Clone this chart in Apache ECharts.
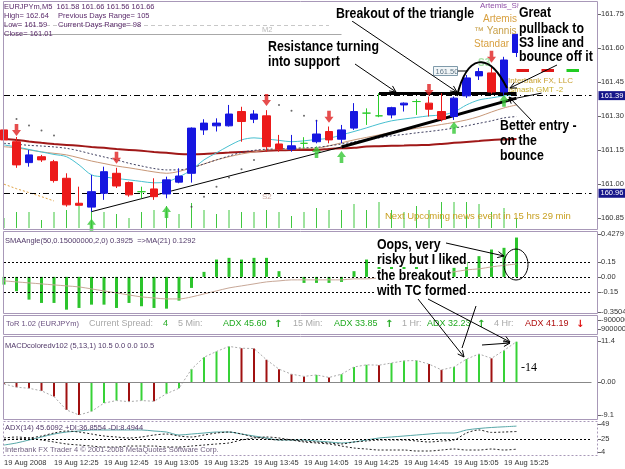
<!DOCTYPE html>
<html>
<head>
<meta charset="utf-8">
<script src="https://cdn.jsdelivr.net/npm/echarts@6/dist/echarts.min.js"></script>
<style>
  html, body { margin: 0; padding: 0; background: #fff; }
  #chart { width: 625px; height: 469px; }
</style>
</head>
<body>
<div id="chart"></div>
<script>
// ---- data (EURJPYm, M5) ----
var times = ['12:05','12:10','12:15','12:20','12:25','12:30','12:35','12:40','12:45','12:50','12:55','13:00',
  '13:05','13:10','13:15','13:20','13:25','13:30','13:35','13:40','13:45','13:50','13:55','14:00',
  '14:05','14:10','14:15','14:20','14:25','14:30','14:35','14:40','14:45','14:50','14:55','15:00',
  '15:05','15:10','15:15','15:20','15:25','15:30','15:35','15:40','15:45','15:50','15:55','16:00'];
var timeLabels = ['19 Aug 2008','19 Aug 12:25','19 Aug 12:45','19 Aug 13:05','19 Aug 13:25','19 Aug 13:45',
  '19 Aug 14:05','19 Aug 14:25','19 Aug 14:45','19 Aug 15:05','19 Aug 15:25'];

// open, close, low, high
var ohlc = [
  [161.239,161.195,161.186,161.252],[161.187,161.085,161.072,161.208],[161.095,161.129,161.077,161.151],
  [161.121,161.107,161.098,161.129],[161.099,161.016,161.007,161.107],[161.026,160.909,160.901,161.048],
  [160.916,160.907,160.906,160.989],[160.899,160.967,160.879,161.041],[160.960,161.055,160.931,161.077],
  [161.048,160.992,160.983,161.072],[161.007,160.953,160.945,161.011],[160.967,160.967,160.938,160.989],
  [160.979,160.945,160.931,161.026],[160.957,161.019,160.938,161.033],[161.009,161.036,161.004,161.070],
  [161.048,161.247,161.007,161.250],[161.239,161.269,161.217,161.286],[161.257,161.269,161.232,161.290],
  [161.257,161.309,161.254,161.349],[161.320,161.276,161.187,161.341],[161.286,161.309,161.269,161.326],
  [161.301,161.165,161.143,161.326],[161.177,161.154,161.143,161.217],[161.154,161.169,161.143,161.217],
  [161.180,161.180,161.158,161.207],[161.187,161.221,161.180,161.283],[161.232,161.195,161.180,161.254],
  [161.198,161.239,161.180,161.261],[161.247,161.320,161.239,161.357],[161.313,161.313,161.261,161.334],
  [161.301,161.301,161.295,161.401],[161.305,161.337,161.290,161.341],[161.349,161.357,161.320,161.360],
  [161.364,161.364,161.305,161.374],[161.357,161.330,161.298,161.386],[161.320,161.286,161.276,161.401],
  [161.298,161.379,161.283,161.386],[161.389,161.468,161.380,161.481],[161.477,161.496,161.459,161.512],
  [161.490,161.406,161.398,161.521],[161.406,161.547,161.389,161.561],[161.580,161.660,161.560,161.660]
];
var volumes = [44,71,71,36,71,80,98,89,71,62,44,71,80,98,62,111,80,62,80,71,71,80,71,53,71,89,80,80,
  107,80,116,80,71,98,80,116,116,116,107,71,89,44];
var slowMA = [161.199,161.195,161.188,161.182,161.177,161.173,161.169,161.164,161.160,161.155,161.151,161.147,
  161.142,161.138,161.133,161.132,161.133,161.136,161.139,161.142,161.144,161.147,161.149,161.150,161.151,
  161.151,161.155,161.158,161.160,161.166,161.167,161.169,161.170,161.172,161.173,161.177,161.182,161.186,
  161.190,161.195,161.197,161.199];
var fastMA = [161.173,161.164,161.153,161.142,161.131,161.121,161.085,161.041,161.032,161.025,161.019,161.012,
  161.006,161.010,161.032,161.063,161.107,161.138,161.169,161.195,161.204,161.199,161.193,161.187,161.191,
  161.197,161.202,161.217,161.232,161.248,161.265,161.279,161.287,161.294,161.301,161.305,161.318,161.349,
  161.371,161.380,161.389,161.393];
var midMA = [161.165,161.160,161.151,161.142,161.136,161.129,161.116,161.102,161.091,161.080,161.072,161.063,
  161.054,161.048,161.056,161.072,161.089,161.107,161.121,161.133,161.142,161.151,161.153,161.155,161.157,
  161.158,161.169,161.182,161.195,161.206,161.217,161.228,161.237,161.246,161.254,161.263,161.272,161.283,
  161.298,161.318,161.336,161.349];
var dashMA = [161.180,161.176,161.171,161.168,161.164,161.158,161.147,161.133,161.120,161.107,161.092,161.080,
  161.069,161.063,161.063,161.072,161.089,161.107,161.124,161.140,161.149,161.154,161.155,161.158,161.160,
  161.162,161.169,161.177,161.186,161.195,161.204,161.213,161.219,161.226,161.232,161.239,161.247,161.257,
  161.268,161.279,161.292,161.298];
var pivotLine = [161.000,160.980,160.963,160.945,160.926];
var sarDots = [null,161.287,161.258,161.236,161.214,null,null,null,null,null,null,null,null,null,null,
  160.901,160.945,160.989,161.029,161.066,161.107,161.148,161.349,161.323,161.301,161.279];
var downArrows = [[1,161.239],[9,161.116],[21,161.371],[26,161.297],[34,161.415],[39,161.561]];
var upArrows = [[7,160.821],[13,160.878],[25,161.142],[27,161.120],[36,161.248],[40,161.367]];

var smaAngle = [-0.077,-0.143,-0.227,-0.26,-0.26,-0.327,-0.31,-0.277,-0.277,-0.31,-0.26,-0.293,-0.31,-0.317,
  -0.237,-0.11,0.05,0.173,0.19,0.173,0.19,0.19,0.057,0,-0.06,-0.06,-0.06,-0.05,0.057,0.173,
  0.12,0.15,0.16,0.12,0.08,0.05,0.09,0.15,0.207,0.273,0.29,0.3925];
var smaMA = [-0.04,-0.05,-0.06,-0.07,-0.08,-0.09,-0.10,-0.12,-0.14,-0.16,-0.18,-0.20,-0.21,-0.22,-0.22,-0.20,
  -0.17,-0.14,-0.11,-0.09,-0.07,-0.05,-0.04,-0.03,-0.03,-0.03,-0.03,-0.03,-0.02,-0.02,-0.01,0.00,0.01,0.02,
  0.03,0.04,0.05,0.07,0.08,0.10,0.115,0.129];
var macd = [-0.5,-1.4,-1.7,-2.4,-4.0,-7.7,-9.1,-8.1,-5.8,-5.1,-5.4,-5.1,-5.3,-3.2,-1.7,3.6,6.9,8.5,9.9,9.4,9.3,
  6.2,3.6,2.2,1.6,2.0,1.3,2.2,4.2,4.8,4.7,5.3,5.9,6.0,5.0,3.4,4.2,6.4,7.8,6.6,8.8,11.2];
var adx = [15.2,18.5,23.3,28.1,32.9,36.1,37.7,39.4,39.4,39.4,39.4,39.4,37.7,36.1,31.3,32.9,34.5,36.1,36.1,32.9,
  29.7,26.5,23.3,23.3,23.3,21.7,20.1,18.5,20.1,23.3,26.5,28.1,29.7,31.3,32.9,34.5,34.5,39.4,41.8,43.4,44.5,45.6];
var plusDI = [23.3,24.9,26.5,29.7,34.5,37.7,36.1,32.9,29.7,28.1,26.5,28.1,31.3,32.9,29.7,28.1,31.3,34.5,36.1,
  32.9,28.1,24.9,23.3,23.3,21.7,20.1,18.5,16.9,20.1,21.7,23.3,23.3,23.3,21.7,20.1,21.7,23.3,34.5,39.4,35.5,36.1,36.9];
var minusDI = [26.5,28.1,26.5,23.3,20.1,16.9,15.2,13.6,12,12,13.6,13.6,13.6,12,12,13.6,15.2,16.9,18.5,23.3,
  26.5,28.1,26.5,23.3,20.1,18.5,16.9,13.6,10.4,8.8,7.2,7.2,7.2,5.6,5.6,7.2,8.8,7.2,7.2,8.8,7.2,8.5];

var priceTicks = [160.85,161.00,161.15,161.30,161.45,161.60,161.75];
var smaTicks = [-0.3504,-0.15,0,0.15,0.4279];
var smaTickLabels = ['-0.3504','-0.15','0.00','0.15','0.4279'];
var torTicks = [-9000000,9000000];
var macdTicks = [-9.1,0,11.4];
var macdTickLabels = ['-9.1','0.00','11.4'];
var adxTicks = [4,25,49];

// ---- styling ----
var FONT = '"Liberation Sans", Arial, sans-serif';
var BULL = '#1616e0', BEAR = '#ec1a1a', DOJI = '#2ccc2c';
var FRAME = '#a898b8';

function lookup(ticks, labels) {
  return function (v) {
    for (var i = 0; i < ticks.length; i++) if (Math.abs(ticks[i] - v) < 1e-9) return labels[i];
    return '';
  };
}

function rightAxis(grid, min, max, ticks, fmt, extra) {
  var ax = {
    type: 'value', gridIndex: grid, position: 'right', offset: 6.5, min: min, max: max,
    axisLine: { show: false },
    axisTick: { show: true, length: 3, customValues: ticks, lineStyle: { color: '#666' } },
    axisLabel: { customValues: ticks, formatter: fmt, fontSize: 7.5, fontFamily: FONT, color: '#333', margin: 3 },
    splitLine: { show: false }
  };
  return Object.assign(ax, extra || {});
}

var candleData = ohlc.map(function (d) {
  if (d[0] === d[1]) {
    return { value: d, itemStyle: { color: DOJI, color0: DOJI, borderColor: DOJI, borderColor0: DOJI, borderColorDoji: DOJI } };
  }
  return d;
});

var macdData = macd.map(function (v, i) {
  var up = i === 0 ? false : v > macd[i - 1];
  return { value: v, itemStyle: { color: up ? '#36d236' : '#a01010' } };
});

function priceLabel(v, bg) {
  return {
    yAxis: v, lineStyle: { opacity: 0 },
    label: { show: true, position: 'end', distance: 7, formatter: v.toFixed(2), color: '#fff',
      backgroundColor: bg, padding: [1, 2, 0, 2], fontSize: 7.5, fontFamily: FONT }
  };
}
function seg(x1, y1, x2, y2, style) {
  return [{ coord: [x1, y1], lineStyle: style }, { coord: [x2, y2] }];
}

var xAxes = [0, 1, 2, 3, 4].map(function (g) {
  return {
    type: 'category', gridIndex: g, data: times, boundaryGap: false,
    offset: g === 4 ? 4 : 0,
    axisLine: { show: false }, axisTick: { show: false }, splitLine: { show: false },
    axisLabel: g === 4 ? {
      show: true, align: 'left', margin: 3, fontSize: 7.5, fontFamily: FONT, color: '#333',
      interval: function (i) { return i % 4 === 0 && i <= 40; },
      formatter: function (v, i) { return timeLabels[i / 4] || ''; }
    } : { show: false }
  };
});

var grids = [[3, 225], [234, 78], [320, 9], [341, 74], [424, 28]].map(function (g) {
  return { left: 4, right: 33.5, top: g[0], height: g[1], containLabel: false, outerBoundsMode: 'none' };
});

// ---- annotations (hand-drawn on the screenshot) ----
function txt(x, y, s, st, extra) {
  return Object.assign({
    type: 'text', x: x, y: y, z: 100, silent: true,
    style: Object.assign({ text: s, fill: '#5a2a6a', font: '7.5px ' + FONT, verticalAlign: 'middle', align: 'left' }, st || {})
  }, extra || {});
}
function note(x, y, s, bg) {
  return txt(x, y, s, { fill: '#000', font: 'bold 14px ' + FONT, backgroundColor: bg ? '#fff' : null, padding: bg ? [0, 1, 0, 1] : 0 },
    { scaleX: 0.88, z: 120 });
}
function line(x1, y1, x2, y2, w) {
  return { type: 'line', z: 110, silent: true, shape: { x1: x1, y1: y1, x2: x2, y2: y2 }, style: { stroke: '#000', lineWidth: w || 1 } };
}
function arrow(x1, y1, x2, y2) {
  var a = Math.atan2(y2 - y1, x2 - x1), L = 7, w = 0.45;
  return [line(x1, y1, x2, y2), {
    type: 'polyline', z: 110, silent: true,
    shape: { points: [[x2 - L * Math.cos(a - w), y2 - L * Math.sin(a - w)], [x2, y2], [x2 - L * Math.cos(a + w), y2 - L * Math.sin(a + w)]] },
    style: { stroke: '#000', lineWidth: 1, fill: null }
  }];
}
function frame(y1, y2) {
  return { type: 'rect', z: 90, silent: true, shape: { x: 3.5, y: y1 + 0.5, width: 594, height: y2 - y1 }, style: { fill: null, stroke: FRAME, lineWidth: 1 } };
}

var GREY = '#a8a8a8', GREEN = '#22aa22', DRED = '#b01010';
var graphics = [
  frame(1, 229), frame(231, 313), frame(315, 334), frame(336, 419),
  { type: 'rect', z: 90, silent: true, shape: { x: 3.5, y: 421.5, width: 594, height: 34 }, style: { fill: null, stroke: FRAME, lineDash: [2, 2] } },

  txt(4, 7, 'EURJPYm,M5  161.58 161.66 161.56 161.66'),
  txt(4, 16, 'High= 162.64'), txt(58, 16, 'Previous Days Range= 105'),
  txt(4, 25, 'Low= 161.59'), txt(58, 25, 'Current Days Range= 98'),
  txt(4, 34, 'Close= 161.01'),
  txt(262, 30, 'M2', { fill: '#b8b8b8' }), txt(262, 197, 'S2', { fill: '#c8a8a0', font: '8px ' + FONT }),

  txt(480, 6, 'Artemis_Si', { fill: '#9050a8', font: '8px ' + FONT }),
  txt(483, 19, 'Artemis', { fill: '#d8a040', font: '10px ' + FONT }),
  txt(474, 31, '\u2122 Yannis', { fill: '#c8a048', font: '10px ' + FONT }),
  txt(474, 44, 'Standar', { fill: '#d8a040', font: '10px ' + FONT }),
  txt(478, 63, 'S3', { fill: '#a8e0a8', font: 'bold 10px ' + FONT }),
  txt(508, 81, 'Interbank FX, LLC', { fill: '#c8a030', font: '8px ' + FONT }),
  txt(508, 90, 'Ismash GMT -2', { fill: '#c8b030', font: '8px ' + FONT }),
  txt(385, 216, 'Next Upcoming news event in 15 hrs 29 min', { fill: '#c8a020', font: '9.5px ' + FONT }),

  { type: 'rect', z: 100, silent: true, shape: { x: 433.5, y: 66.5, width: 24, height: 9 }, style: { fill: '#f2f6f8', stroke: '#7f9aaa' } },
  txt(435.5, 71.5, '161.50', { fill: '#607888' }),
  line(458, 71, 467, 71),

  txt(5, 241, 'SMAAngle(50,0.15000000,2,0) 0.3925  =>MA(21) 0.1292', { fill: '#503868' }),
  txt(6, 324, 'ToR 1.02 (EURJPYm)', { fill: '#6a5080' }),
  txt(89, 324, 'Current Spread:', { fill: GREY, font: '9px ' + FONT }),
  txt(163, 324, '4', { fill: GREEN, font: '9px ' + FONT }),
  txt(178, 324, '5 Min:', { fill: GREY, font: '9px ' + FONT }),
  txt(223, 324, 'ADX 45.60', { fill: GREEN, font: '9px ' + FONT }),
  txt(274, 324, '\u2191', { fill: GREEN, font: 'bold 10px "DejaVu Sans"' }),
  txt(293, 324, '15 Min:', { fill: GREY, font: '9px ' + FONT }),
  txt(334, 324, 'ADX 33.85', { fill: GREEN, font: '9px ' + FONT }),
  txt(385, 324, '\u2191', { fill: GREEN, font: 'bold 10px "DejaVu Sans"' }),
  txt(402, 324, '1 Hr:', { fill: GREY, font: '9px ' + FONT }),
  txt(427, 324, 'ADX 32.23', { fill: GREEN, font: '9px ' + FONT }),
  txt(477, 324, '\u2191', { fill: GREEN, font: 'bold 10px "DejaVu Sans"' }),
  txt(494, 324, '4 Hr:', { fill: GREY, font: '9px ' + FONT }),
  txt(525, 324, 'ADX 41.19', { fill: DRED, font: '9px ' + FONT }),
  txt(576, 324, '\u2193', { fill: '#e01010', font: 'bold 10px "DejaVu Sans"' }),
  txt(5, 346, 'MACDcoloredv102 (5,13,1) 10.5 0.0 0.0 10.5', { fill: '#503868' }),
  txt(5, 428, 'ADX(14) 45.6092 +DI:36.8554 -DI:8.4944', { fill: '#503868' }),
  txt(5, 450, 'Interbank FX Trader 4 \u00a9 2001-2008 MetaQuotes Software Corp.', { fill: '#706080' }),

  note(335, 14, 'Breakout of the triangle', true),
  note(268, 47, 'Resistance turning'), note(268, 62, 'into support'),
  note(518, 13, 'Great', true), note(518, 29, 'pullback to', true),
  note(518, 43, 'S3 line and', true), note(518, 57, 'bounce off it', true),
  note(500, 126, 'Better entry -'), note(500, 141, 'on the'), note(500, 156, 'bounce'),
  note(376, 245, 'Oops, very', true), note(376, 260, 'risky but I liked', true),
  note(376, 276, 'the breakout', true), note(376, 291, 'with TC formed', true),
  txt(521, 368, '-14', { fill: '#000', font: '12px "Liberation Serif", serif' }),

  { type: 'bezierCurve', z: 110, silent: true,
    shape: { x1: 457, y1: 96, cpx1: 467, cpy1: 55, cpx2: 488, cpy2: 50, x2: 507, y2: 88 },
    style: { stroke: '#000', lineWidth: 2, fill: null } },
  { type: 'ellipse', z: 110, silent: true, shape: { cx: 516, cy: 264.5, rx: 12, ry: 15.5 }, style: { stroke: '#000', fill: null } },
  line(476, 306, 462, 348)
].concat(
  arrow(352, 21, 457, 92), arrow(355, 64, 396, 92), arrow(557, 65, 510, 88), arrow(532, 121, 509, 97),
  arrow(446, 243, 504, 256), arrow(418, 299, 464, 357), arrow(428, 299, 510, 342), arrow(482, 345, 510, 343)
);

var option = {
  animation: false,
  backgroundColor: '#fff',
  grid: grids,
  xAxis: xAxes,
  yAxis: [
    rightAxis(0, 160.807, 161.798, priceTicks, function (v) { return v.toFixed(2); }),
    { type: 'value', gridIndex: 0, min: 0, max: 1000, show: false },
    rightAxis(1, -0.3504, 0.4279, smaTicks, lookup(smaTicks, smaTickLabels)),
    rightAxis(2, -9000000, 9000000, torTicks, function (v) { return String(v); }, { inverse: true }),
    rightAxis(3, -9.1, 11.4, macdTicks, lookup(macdTicks, macdTickLabels)),
    rightAxis(4, 4, 49, adxTicks, function (v) { return String(v); })
  ],
  graphic: graphics,
  series: [
    { name: 'Volume', type: 'bar', xAxisIndex: 0, yAxisIndex: 1, data: volumes, barWidth: 1,
      itemStyle: { color: '#40c840' }, z: 1 },
    { name: 'Slow MA', type: 'line', xAxisIndex: 0, yAxisIndex: 0, data: slowMA, symbol: 'none', smooth: 0.3,
      lineStyle: { color: '#a01818', width: 2 }, z: 2 },
    { name: 'Mid MA', type: 'line', xAxisIndex: 0, yAxisIndex: 0, data: midMA, symbol: 'none', smooth: 0.3,
      lineStyle: { color: '#c89878', width: 1 }, z: 2 },
    { name: 'Dash MA', type: 'line', xAxisIndex: 0, yAxisIndex: 0, data: dashMA, symbol: 'none', smooth: 0.3,
      lineStyle: { color: '#404060', width: 1, type: [2, 2] }, z: 2 },
    { name: 'Fast MA', type: 'line', xAxisIndex: 0, yAxisIndex: 0, data: fastMA, symbol: 'none', smooth: 0.3,
      lineStyle: { color: '#48c0d0', width: 1 }, z: 2 },
    { name: 'Pivot', type: 'line', xAxisIndex: 0, yAxisIndex: 0, data: pivotLine, symbol: 'none',
      lineStyle: { color: '#e0a040', width: 1, type: [2, 2] }, z: 2 },
    { name: 'SAR', type: 'scatter', xAxisIndex: 0, yAxisIndex: 0, data: sarDots, symbolSize: 2,
      itemStyle: { color: '#444' }, z: 3 },
    { name: 'EURJPYm', type: 'candlestick', xAxisIndex: 0, yAxisIndex: 0, data: candleData, barWidth: 8, clip: false,
      itemStyle: { color: BULL, color0: BEAR, borderColor: BULL, borderColor0: BEAR, borderWidth: 1 }, z: 5,
      markLine: {
        symbol: ['none', 'none'], silent: true, animation: false, label: { show: false },
        data: [
          { yAxis: 161.39, lineStyle: { color: '#000', width: 1, type: [6, 3, 1, 3] },
            label: { show: true, position: 'end', distance: 7, formatter: '161.39', color: '#fff', backgroundColor: '#16168a',
              padding: [1, 2, 0, 2], fontSize: 7.5, fontFamily: FONT } },
          { yAxis: 160.96, lineStyle: { color: '#000', width: 1, type: [6, 3, 1, 3] },
            label: { show: true, position: 'end', distance: 7, formatter: '160.96', color: '#fff', backgroundColor: '#16168a',
              padding: [1, 2, 0, 2], fontSize: 7.5, fontFamily: FONT } },
          priceLabel(161.70, '#d4b0e0'),
          priceLabel(161.66, '#a868c8'),
          priceLabel(161.18, '#dcc8e0'),
          seg(0, 161.70, 26, 161.70, { color: '#c8c8c8', width: 1, type: [4, 3] }),
          seg(0, 161.66, 27, 161.66, { color: '#a8a8a8', width: 1, type: 'solid' }),
          seg(7, 160.879, 27, 161.164, { color: '#000', width: 1, type: 'solid' }),
          seg(27, 161.164, 41, 161.379, { color: '#000', width: 3, type: 'solid' }),
          seg(41, 161.379, 43, 161.401, { color: '#000', width: 1, type: 'solid' }),
          seg(30, 161.401, 41, 161.401, { color: '#000', width: 3, type: 'solid' }),
          seg(41, 161.503, 42, 161.503, { color: '#e01818', width: 3, type: 'solid' }),
          seg(43, 161.503, 44, 161.503, { color: '#e01818', width: 3, type: 'solid' }),
          seg(45, 161.503, 46, 161.503, { color: '#22cc22', width: 3, type: 'solid' })
        ]
      }
    },
    { name: 'Sell', type: 'scatter', xAxisIndex: 0, yAxisIndex: 0, data: downArrows,
      symbol: 'path://M3,0H7V6H10L5,12L0,6H3Z', symbolSize: [9, 12], itemStyle: { color: '#e02020' }, z: 6 },
    { name: 'Buy', type: 'scatter', xAxisIndex: 0, yAxisIndex: 0, data: upArrows,
      symbol: 'path://M5,0L10,6H7V12H3V6H0Z', symbolSize: [9, 12], itemStyle: { color: '#36c836' }, z: 6 },

    { name: 'SMAAngle', type: 'bar', xAxisIndex: 1, yAxisIndex: 2, data: smaAngle, barWidth: 3,
      itemStyle: { color: '#2cc42c' }, z: 2,
      markLine: {
        symbol: ['none', 'none'], silent: true, label: { show: false },
        lineStyle: { color: '#000', width: 1, type: [2, 2] },
        data: [{ yAxis: 0.15 }, { yAxis: 0 }, { yAxis: -0.15 }]
      }
    },
    { name: 'SMA MA', type: 'line', xAxisIndex: 1, yAxisIndex: 2, data: smaMA, symbol: 'none', smooth: 0.3,
      lineStyle: { color: '#c8a898', width: 1 }, z: 3 },

    { name: 'MACD', type: 'bar', xAxisIndex: 3, yAxisIndex: 4, data: macdData, barWidth: 2, z: 2,
      markLine: {
        symbol: ['none', 'none'], silent: true, label: { show: false },
        lineStyle: { color: '#888', width: 1, type: 'solid' }, data: [{ yAxis: 0 }]
      }
    },
    { name: 'MACD signal', type: 'line', xAxisIndex: 3, yAxisIndex: 4, data: macd, symbol: 'none',
      lineStyle: { color: '#aaa', width: 1, type: [2, 2] }, z: 3 },

    { name: 'ADX', type: 'line', xAxisIndex: 4, yAxisIndex: 5, data: adx, symbol: 'none', smooth: 0.3,
      lineStyle: { color: '#58a8a8', width: 1 }, z: 3,
      markLine: {
        symbol: ['none', 'none'], silent: true, label: { show: false },
        lineStyle: { color: '#000', width: 1, type: [2, 2] }, data: [{ yAxis: 25 }]
      }
    },
    { name: '+DI', type: 'line', xAxisIndex: 4, yAxisIndex: 5, data: plusDI, symbol: 'none', smooth: 0.3,
      lineStyle: { color: '#222', width: 1, type: [2, 2] }, z: 3 },
    { name: '-DI', type: 'line', xAxisIndex: 4, yAxisIndex: 5, data: minusDI, symbol: 'none', smooth: 0.3,
      lineStyle: { color: '#222', width: 1, type: [2, 2] }, z: 3 }
  ]
};

var chart = echarts.init(document.getElementById('chart'));
chart.setOption(option);
</script>
</body>
</html>
